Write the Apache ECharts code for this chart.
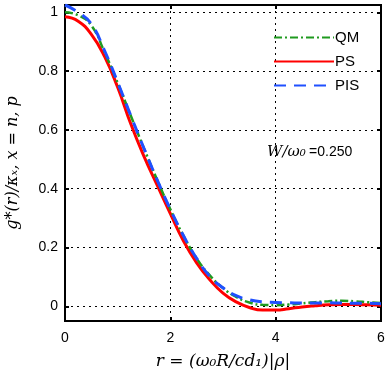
<!DOCTYPE html>
<html>
<head>
<meta charset="utf-8">
<script src="https://cdn.jsdelivr.net/npm/echarts@6/dist/echarts.min.js"></script>
<style>
  html, body { margin: 0; padding: 0; background: #fff; }
  #chart { width: 387px; height: 376px; }
</style>
</head>
<body>
<div id="chart"></div>
<script>
const rValues = [0, 0.25, 0.5, 0.75, 1, 1.25, 1.5, 1.75, 2, 2.25, 2.5, 2.75, 3,
  3.25, 3.5, 3.75, 4, 4.25, 4.5, 4.75, 5, 5.25, 5.5, 5.75, 6];
const qmValues = [1.0, 0.99, 0.955, 0.865, 0.76, 0.648, 0.537, 0.43, 0.33, 0.24, 0.163, 0.105, 0.062,
  0.032, 0.013, 0.005, 0.004, 0.006, 0.01, 0.014, 0.017, 0.019, 0.017, 0.014, 0.011];
const psValues = [0.985, 0.97, 0.925, 0.85, 0.745, 0.62, 0.51, 0.412, 0.315, 0.222, 0.148, 0.09, 0.045,
  0.015, -0.004, -0.013, -0.013, -0.008, -0.002, 0.002, 0.005, 0.006, 0.006, 0.005, 0.004];
const pisValues = [1.025, 1.0, 0.96, 0.87, 0.762, 0.648, 0.537, 0.43, 0.33, 0.24, 0.163, 0.102, 0.063,
  0.036, 0.022, 0.015, 0.013, 0.012, 0.011, 0.011, 0.012, 0.011, 0.01, 0.01, 0.009];
const yTicks = [0, 0.2, 0.4, 0.6, 0.8, 1];
const seriesNames = ["QM", "PS", "PIS"];

const pairs = (ys) => rValues.map((r, i) => [r, ys[i]]);

const chart = echarts.init(document.getElementById("chart"));

const gridLine = { show: true, lineStyle: { color: "#000", width: 1, type: [2, 4] } };
const labelFont = { color: "#000", fontSize: 14, fontFamily: "Liberation Sans, Arial, sans-serif" };
const tickStyle = { color: "#000", width: 2 };

const option = {
  animation: false,
  backgroundColor: "#fff",
  grid: {
    left: 65, right: 6, top: 5, bottom: 55,
    outerBoundsMode: "none",
    containLabel: false,
    show: true, borderColor: "#000", borderWidth: 2,
  },
  legend: {
    data: seriesNames.map((n) => ({ name: n, itemStyle: { opacity: 0 } })),
    orient: "vertical",
    left: 268,
    top: 25,
    itemWidth: 60,
    itemHeight: 12,
    itemGap: 9,
    itemStyle: { opacity: 0 },
    textStyle: { color: "#000", fontSize: 15, fontFamily: "Liberation Sans, Arial, sans-serif", padding: [0, 0, 0, -4] },
  },
  xAxis: [
    {
      type: "value", min: 0, max: 6, interval: 2,
      axisLine: { show: true, onZero: false, lineStyle: { color: "#000", width: 2 } },
      axisTick: { show: true, inside: true, length: 4, lineStyle: tickStyle },
      axisLabel: Object.assign({ margin: 10 }, labelFont),
      splitLine: gridLine,
      name: "r = (ω₀R/cd₁)|ρ|",
      nameLocation: "middle",
      nameGap: 32,
      nameTextStyle: { color: "#000", fontSize: 17, fontStyle: "italic", fontFamily: "DejaVu Serif, serif" },
    },
    {
      type: "value", min: 0, max: 6, interval: 2, position: "top",
      axisLine: { show: false, onZero: false },
      axisTick: { show: true, inside: true, length: 4, lineStyle: tickStyle },
      axisLabel: { show: false },
      splitLine: { show: false },
    },
  ],
  yAxis: [
    {
      type: "value", min: -0.05, max: 1.025,
      axisLine: { show: true, onZero: false, lineStyle: { color: "#000", width: 2 } },
      axisTick: { show: true, inside: true, length: 4, customValues: yTicks, lineStyle: tickStyle },
      axisLabel: Object.assign({ margin: 7, customValues: yTicks }, labelFont),
      splitLine: gridLine,
      name: "g*(r)/κₓ, x = n, p",
      nameLocation: "middle",
      nameGap: 44,
      nameTextStyle: { color: "#000", fontSize: 16, fontStyle: "italic", fontFamily: "DejaVu Serif, serif" },
    },
    {
      type: "value", min: -0.05, max: 1.025, position: "right",
      axisLine: { show: false, onZero: false },
      axisTick: { show: true, inside: true, length: 4, customValues: yTicks, lineStyle: tickStyle },
      axisLabel: { show: false, customValues: yTicks },
      splitLine: { show: false },
    },
  ],
  graphic: [
    {
      type: "text",
      left: 267,
      top: 145,
      style: {
        text: "{m|W/ω₀} {n|=0.250}",
        rich: {
          m: { fontSize: 15, fontStyle: "italic", fontFamily: "DejaVu Serif, serif", fill: "#000" },
          n: { fontSize: 14, fontFamily: "Liberation Sans, Arial, sans-serif", fill: "#000" },
        },
      },
    },
  ],
  series: [
    {
      name: "QM", type: "line", data: pairs(qmValues), smooth: true,
      showSymbol: false, z: 3,
      itemStyle: { color: "#1f9a1f" },
      lineStyle: { color: "#1f9a1f", width: 2.5, type: [8, 3, 2, 3] },
    },
    {
      name: "PS", type: "line", data: pairs(psValues), smooth: true,
      showSymbol: false, z: 2,
      itemStyle: { color: "#ff0000" },
      lineStyle: { color: "#ff0000", width: 3 },
    },
    {
      name: "PIS", type: "line", data: pairs(pisValues), smooth: true,
      showSymbol: false, z: 4,
      itemStyle: { color: "#2050ff" },
      lineStyle: { color: "#2050ff", width: 3, type: [12, 8] },
    },
  ],
};

chart.setOption(option);
</script>
</body>
</html>
